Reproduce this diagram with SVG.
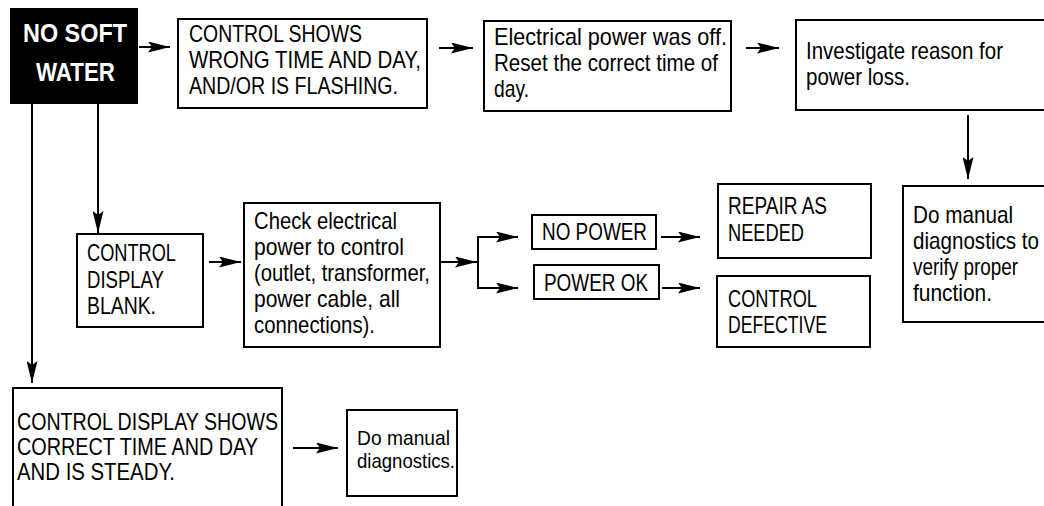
<svg xmlns="http://www.w3.org/2000/svg" width="1044" height="506" viewBox="0 0 1044 506">
<style>
.box{fill:#fff;stroke:#000;stroke-width:2}
.t{font-family:"Liberation Sans",Arial,sans-serif;font-size:24px;fill:#000}
.s{font-size:21px}
.h{font-family:"Liberation Sans",Arial,sans-serif;font-size:26px;font-weight:bold;fill:#fff}
.c{fill:none;stroke:#000;stroke-width:2}
</style>
<defs>
<marker id="ah" markerUnits="userSpaceOnUse" markerWidth="22" markerHeight="11" viewBox="0 0 22 11" refX="22" refY="5.5" orient="auto">
<path d="M0,0 L22,5.5 L0,11 L4,5.5 z" fill="#000"/>
</marker>
</defs>
<rect width="1044" height="506" fill="#fff"/>
<g id="connectors">
<line class="c" x1="139" y1="47" x2="170" y2="47" marker-end="url(#ah)"/>
<line class="c" x1="439" y1="48" x2="473" y2="48" marker-end="url(#ah)"/>
<line class="c" x1="746" y1="48" x2="779" y2="48" marker-end="url(#ah)"/>
<line class="c" x1="968" y1="115" x2="968" y2="179" marker-end="url(#ah)"/>
<line class="c" x1="98" y1="104" x2="98" y2="233" marker-end="url(#ah)"/>
<line class="c" x1="32" y1="104" x2="32" y2="383" marker-end="url(#ah)"/>
<line class="c" x1="209" y1="262" x2="241" y2="262" marker-end="url(#ah)"/>
<line class="c" x1="440" y1="262" x2="477" y2="262" marker-end="url(#ah)"/>
<polyline class="c" points="500,237 478,237 478,288 500,288"/>
<line class="c" x1="478" y1="237" x2="518" y2="237" marker-end="url(#ah)"/>
<line class="c" x1="478" y1="288" x2="518" y2="288" marker-end="url(#ah)"/>
<line class="c" x1="661" y1="237" x2="700" y2="237" marker-end="url(#ah)"/>
<line class="c" x1="662" y1="288" x2="700" y2="288" marker-end="url(#ah)"/>
<line class="c" x1="293" y1="448" x2="338" y2="448" marker-end="url(#ah)"/>
</g>
<g id="no-soft-water">
<rect x="10" y="8" width="128" height="96" fill="#000"/>
<text class="h" x="23" y="42" textLength="104" lengthAdjust="spacingAndGlyphs">NO SOFT</text>
<text class="h" x="36" y="81" textLength="79" lengthAdjust="spacingAndGlyphs">WATER</text>
</g>
<g id="wrong-time">
<rect class="box" x="178" y="19" width="249" height="89"/>
<text class="t" x="189" y="42" textLength="173" lengthAdjust="spacingAndGlyphs">CONTROL SHOWS</text>
<text class="t" x="189" y="68" textLength="232" lengthAdjust="spacingAndGlyphs">WRONG TIME AND DAY,</text>
<text class="t" x="189" y="94" textLength="209" lengthAdjust="spacingAndGlyphs">AND/OR IS FLASHING.</text>
</g>
<g id="power-off">
<rect class="box" x="484" y="21" width="247" height="90"/>
<text class="t" x="494" y="45" textLength="233" lengthAdjust="spacingAndGlyphs">Electrical power was off.</text>
<text class="t" x="494" y="71" textLength="224" lengthAdjust="spacingAndGlyphs">Reset the correct time of</text>
<text class="t" x="494" y="97" textLength="35" lengthAdjust="spacingAndGlyphs">day.</text>
</g>
<g id="investigate">
<rect class="box" x="796" y="20" width="260" height="90"/>
<text class="t" x="806" y="59" textLength="197" lengthAdjust="spacingAndGlyphs">Investigate reason for</text>
<text class="t" x="806" y="85" textLength="104" lengthAdjust="spacingAndGlyphs">power loss.</text>
</g>
<g id="manual-verify">
<rect class="box" x="903" y="186" width="160" height="136"/>
<text class="t" x="913" y="223" textLength="100" lengthAdjust="spacingAndGlyphs">Do manual</text>
<text class="t" x="913" y="249" textLength="126" lengthAdjust="spacingAndGlyphs">diagnostics to</text>
<text class="t" x="913" y="275" textLength="105" lengthAdjust="spacingAndGlyphs">verify proper</text>
<text class="t" x="913" y="301" textLength="79" lengthAdjust="spacingAndGlyphs">function.</text>
</g>
<g id="display-blank">
<rect class="box" x="77" y="234" width="126" height="93"/>
<text class="t" x="87" y="261" textLength="89" lengthAdjust="spacingAndGlyphs">CONTROL</text>
<text class="t" x="87" y="288" textLength="77" lengthAdjust="spacingAndGlyphs">DISPLAY</text>
<text class="t" x="87" y="314" textLength="69" lengthAdjust="spacingAndGlyphs">BLANK.</text>
</g>
<g id="check-power">
<rect class="box" x="244" y="203" width="196" height="144"/>
<text class="t" x="254" y="229" textLength="143" lengthAdjust="spacingAndGlyphs">Check electrical</text>
<text class="t" x="254" y="255" textLength="150" lengthAdjust="spacingAndGlyphs">power to control</text>
<text class="t" x="254" y="281" textLength="176" lengthAdjust="spacingAndGlyphs">(outlet, transformer,</text>
<text class="t" x="254" y="307" textLength="146" lengthAdjust="spacingAndGlyphs">power cable, all</text>
<text class="t" x="254" y="333" textLength="121" lengthAdjust="spacingAndGlyphs">connections).</text>
</g>
<g id="no-power">
<rect class="box" x="532" y="215" width="124" height="34"/>
<text class="t" x="542" y="240" textLength="105" lengthAdjust="spacingAndGlyphs">NO POWER</text>
</g>
<g id="power-ok">
<rect class="box" x="534" y="265" width="125" height="34"/>
<text class="t" x="544" y="291" textLength="104" lengthAdjust="spacingAndGlyphs">POWER OK</text>
</g>
<g id="repair">
<rect class="box" x="718" y="184" width="153" height="74"/>
<text class="t" x="728" y="214" textLength="99" lengthAdjust="spacingAndGlyphs">REPAIR AS</text>
<text class="t" x="728" y="241" textLength="76" lengthAdjust="spacingAndGlyphs">NEEDED</text>
</g>
<g id="control-defective">
<rect class="box" x="717" y="276" width="153" height="71"/>
<text class="t" x="728" y="307" textLength="89" lengthAdjust="spacingAndGlyphs">CONTROL</text>
<text class="t" x="728" y="333" textLength="99" lengthAdjust="spacingAndGlyphs">DEFECTIVE</text>
</g>
<g id="display-steady">
<rect class="box" x="13" y="388" width="269" height="140"/>
<text class="t" x="17" y="430" textLength="261" lengthAdjust="spacingAndGlyphs">CONTROL DISPLAY SHOWS</text>
<text class="t" x="17" y="455" textLength="241" lengthAdjust="spacingAndGlyphs">CORRECT TIME AND DAY</text>
<text class="t" x="17" y="480" textLength="158" lengthAdjust="spacingAndGlyphs">AND IS STEADY.</text>
</g>
<g id="manual-diagnostics">
<rect class="box" x="347" y="410" width="110" height="86"/>
<text class="t s" x="357" y="445" textLength="93" lengthAdjust="spacingAndGlyphs">Do manual</text>
<text class="t s" x="357" y="468" textLength="98" lengthAdjust="spacingAndGlyphs">diagnostics.</text>
</g>
</svg>
